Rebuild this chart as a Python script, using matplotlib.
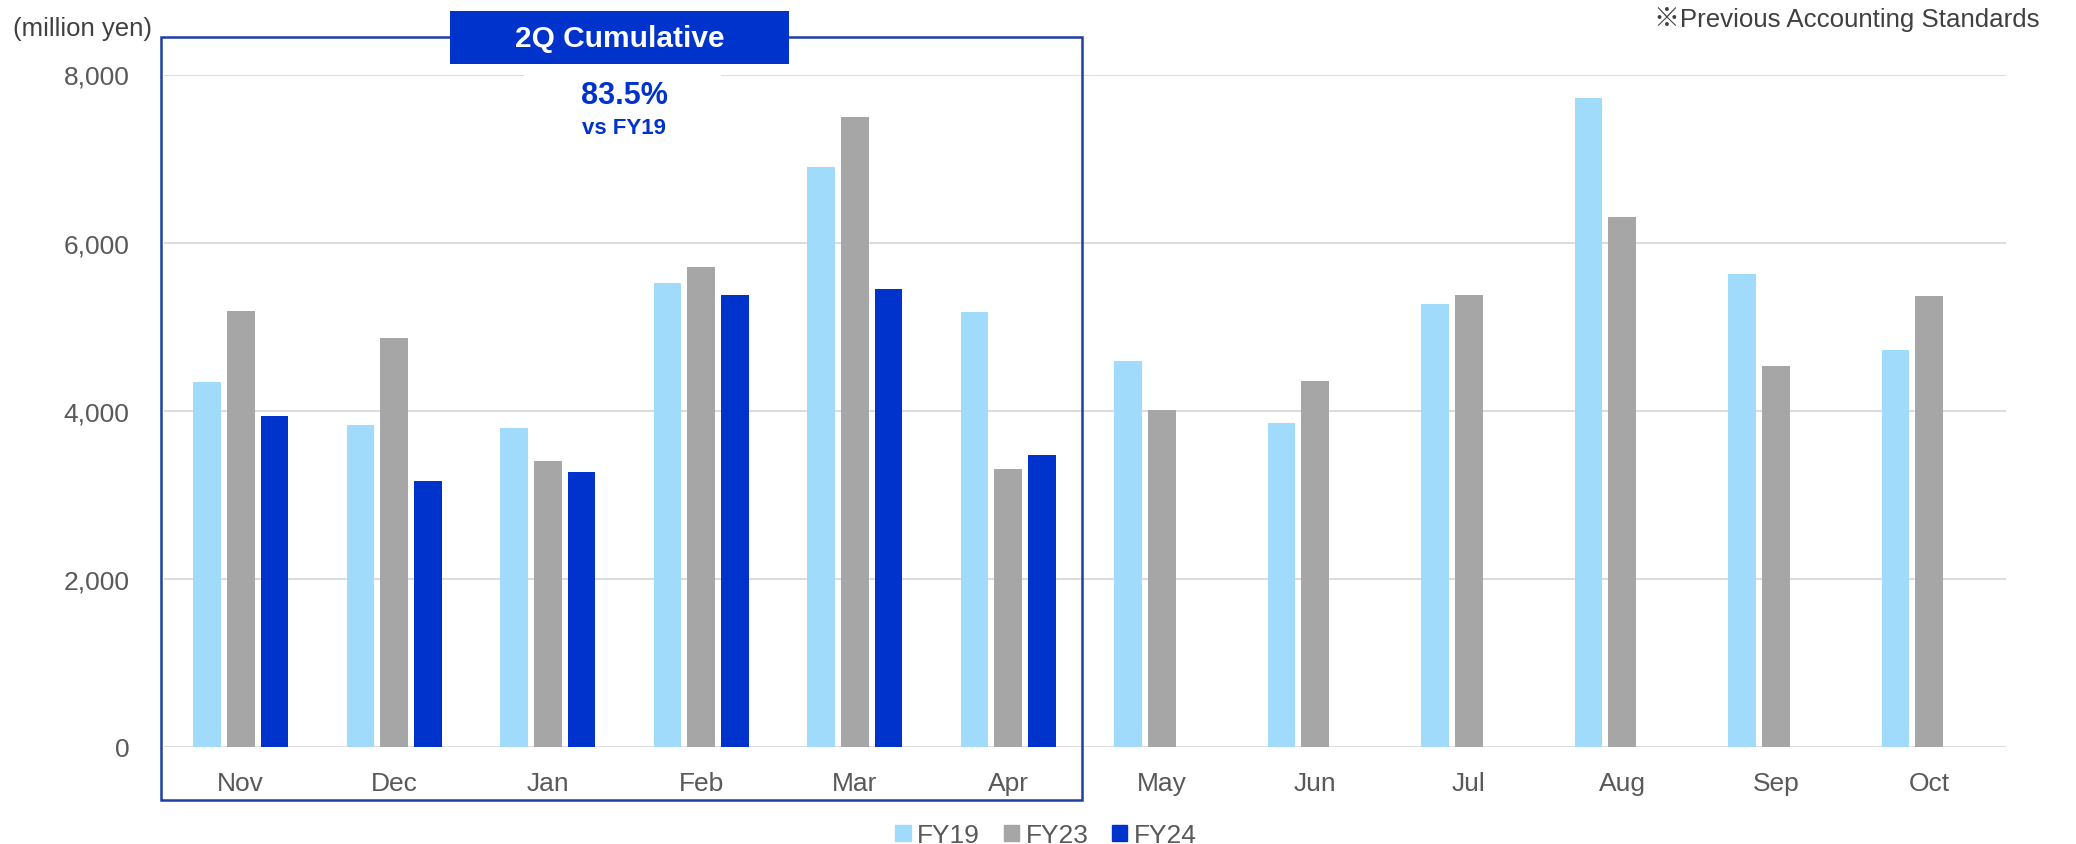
import numpy as np
import matplotlib.pyplot as plt
import matplotlib.patches as mpatches
from matplotlib.ticker import StrMethodFormatter

plt.rcParams['font.family'] = ['Liberation Sans', 'Noto Sans CJK JP']

# monthly sales (million yen), fiscal year starts in November
months = ['Nov', 'Dec', 'Jan', 'Feb', 'Mar', 'Apr', 'May', 'Jun', 'Jul', 'Aug', 'Sep', 'Oct']
fy19 = [4337, 3825, 3794, 5516, 6901, 5179, 4587, 3849, 5270, 7718, 5627, 4722]
fy23 = [5183, 4865, 3404, 5710, 7500, 3305, 4005, 4357, 5373, 6302, 4532, 5365]
fy24 = [3937, 3165, 3267, 5373, 5448, 3479]

c19 = '#a0dbfb'
c23 = '#a6a6a6'
c24 = '#0033cc'
frame_col = '#1f3fa3'
txt_col = '#595959'

fig = plt.figure(figsize=(20.76, 8.45), dpi=100)
ax = fig.add_axes([164 / 2076, 97 / 845, 1842 / 2076, 672.5 / 845])

x = np.arange(len(months))
w = 0.18
ax.bar(x - 0.22, fy19, w, color=c19, zorder=3)
ax.bar(x, fy23, w, color=c23, zorder=3)
ax.bar(x[:len(fy24)] + 0.22, fy24, w, color=c24, zorder=3)

ax.set_xlim(-0.5, len(months) - 0.5)
ax.set_ylim(0, 8000)
ax.set_yticks(np.arange(0, 8001, 2000))
ax.yaxis.set_major_formatter(StrMethodFormatter('{x:,.0f}'))
ax.set_xticks(x)
ax.set_xticklabels(months)
ax.yaxis.grid(True, color='#d9d9d9', lw=1.3)
ax.set_axisbelow(True)
for s in ax.spines.values():
    s.set_visible(False)
ax.tick_params(axis='both', length=0, labelsize=19, colors=txt_col)
ax.tick_params(axis='y', pad=25)
ax.tick_params(axis='x', pad=17)

# 2Q cumulative frame around Nov-Apr
ax.add_patch(mpatches.Rectangle((-0.52, -630), 6.0, 9076, fill=False,
                                ec=frame_col, lw=1.8, clip_on=False, zorder=4))
ax.add_patch(mpatches.Rectangle((1.363, 8125), 2.209, 630, fc=c24, ec='none',
                                clip_on=False, zorder=5))
ax.text(2.4675, 8440, '2Q Cumulative', color='white', fontsize=21.5,
        fontweight='bold', ha='center', va='center', zorder=6, clip_on=False)

# white gap in the top gridline behind the ratio
ax.add_patch(mpatches.Rectangle((1.845, 7500), 1.285, 620, fc='white', ec='none',
                                clip_on=False, zorder=1))
ratio = 100 * sum(fy24) / sum(fy19[:len(fy24)])
ax.text(2.497, 7762, f'{ratio:.1f}%', color=c24, fontsize=22, fontweight='bold',
        ha='center', va='center', zorder=6)
ax.text(2.497, 7370, 'vs FY19', color=c24, fontsize=16, fontweight='bold',
        ha='center', va='center', zorder=6)

fig.text(13 / 2076, 1 - 29 / 845, '(million yen)', fontsize=18.5, color='#404040',
         ha='left', va='center')
fig.text(2039 / 2076, 1 - 20 / 845, '※Previous Accounting Standards', fontsize=18.6,
         color='#404040', ha='right', va='center')

handles = [mpatches.Patch(color=c19, label='FY19'),
           mpatches.Patch(color=c23, label='FY23'),
           mpatches.Patch(color=c24, label='FY24')]
fig.legend(handles=handles, loc='center', bbox_to_anchor=(1046 / 2076, 1 - 836 / 845),
           ncol=3, frameon=False, fontsize=19, labelcolor=txt_col,
           handlelength=0.57, handleheight=0.57, handletextpad=0.25,
           columnspacing=0.9, borderpad=0)

fig.savefig('out.png', dpi=100)
